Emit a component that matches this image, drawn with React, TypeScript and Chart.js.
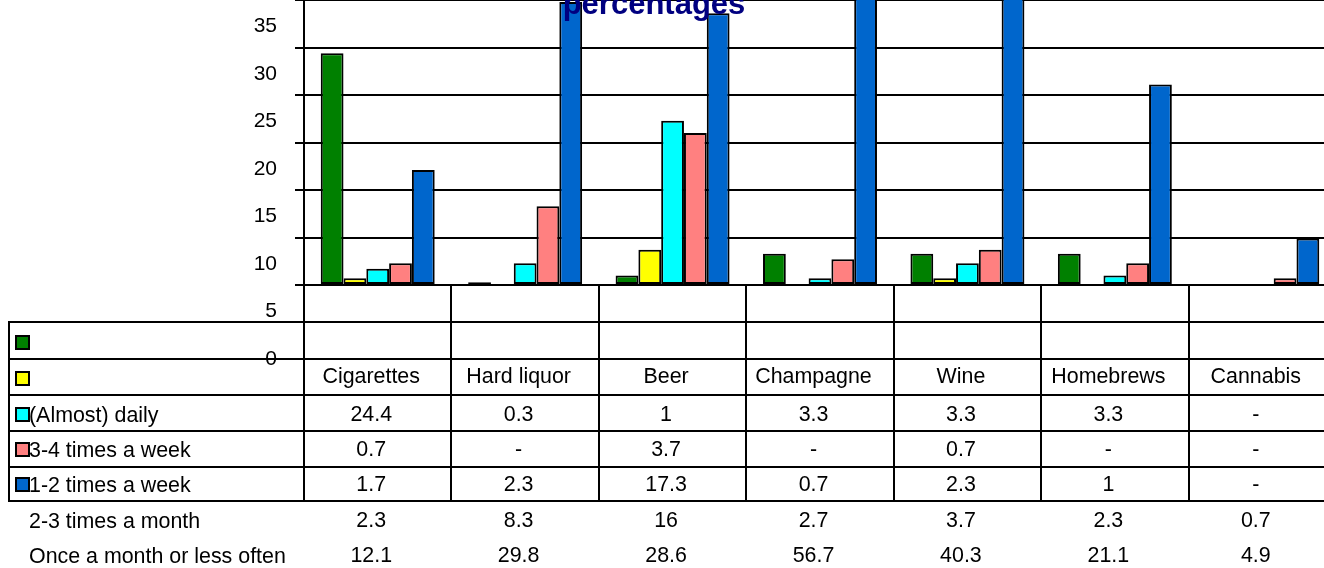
import React, { useEffect, useRef } from "react";
import { Chart, registerables } from "chart.js";

Chart.register(...registerables);

// ---- data ----
const categories = ["Cigarettes", "Hard liquor", "Beer", "Champagne", "Wine", "Homebrews", "Cannabis"];
const seriesNames = [
  "(Almost) daily",
  "3-4 times a week",
  "1-2 times a week",
  "2-3 times a month",
  "Once a month or less often",
];
const seriesColors = ["#008000", "#FFFF00", "#00FFFF", "#FF8080", "#0066CC"];
const almostDaily = [24.4, 0.3, 1, 3.3, 3.3, 3.3, null];
const threeFourWeek = [0.7, null, 3.7, null, 0.7, null, null];
const oneTwoWeek = [1.7, 2.3, 17.3, 0.7, 2.3, 1, null];
const twoThreeMonth = [2.3, 8.3, 16, 2.7, 3.7, 2.3, 0.7];
const onceMonth = [12.1, 29.8, 28.6, 56.7, 40.3, 21.1, 4.9];
const seriesValues = [almostDaily, threeFourWeek, oneTwoWeek, twoThreeMonth, onceMonth];
const yMin = 0;
const yMax = 35;
const yStep = 5;
const titleText = "percentages";

// ---- layout ----
const PAGE_W = 1324;
const PAGE_H = 568;
const OFF = 50; // canvas is shifted up by this many px
const CW = 1340;
const CH = PAGE_H + OFF;
const FONT = "Arial, 'Liberation Sans', sans-serif";

const tablePlugin = {
  id: "tablePlugin",
  afterDraw(chart: any) {
    const ctx = chart.ctx as CanvasRenderingContext2D;
    const xs = chart.scales.x;
    const area = chart.chartArea;
    const Y = (v: number) => v + OFF;
    const half = (xs.getPixelForValue(1) - xs.getPixelForValue(0)) / 2;
    const right = area.right;
    const left = 9;
    const axisX = area.left;
    const bottom = area.bottom;
    const rowLines = [322, 359, 395, 431, 467, 501];

    ctx.save();
    ctx.strokeStyle = "#000";
    ctx.lineWidth = 2;
    ctx.beginPath();
    rowLines.forEach((r) => {
      ctx.moveTo(left, Y(r));
      ctx.lineTo(right, Y(r));
    });
    ctx.moveTo(left, Y(322) - 1);
    ctx.lineTo(left, Y(501) + 1);
    ctx.moveTo(axisX, bottom);
    ctx.lineTo(axisX, Y(501) + 1);
    for (let k = 1; k <= categories.length; k++) {
      const bx = Math.round(xs.getPixelForValue(k) - half);
      ctx.moveTo(bx, bottom);
      ctx.lineTo(bx, Y(501) + 1);
    }
    ctx.stroke();

    // legend keys
    const keyTops = [336, 372, 408, 443, 478];
    seriesColors.forEach((c, i) => {
      ctx.fillStyle = c;
      ctx.fillRect(16, Y(keyTops[i]), 13, 13);
      ctx.lineWidth = 2;
      ctx.strokeStyle = "#000";
      ctx.strokeRect(16, Y(keyTops[i]), 13, 13);
    });

    // text
    ctx.font = `21.4px ${FONT}`;
    ctx.fillStyle = "#000";
    ctx.textBaseline = "middle";
    const rowCenters = [416, 451, 486, 522, 557];
    ctx.textAlign = "left";
    seriesNames.forEach((n, i) => {
      ctx.fillText(n, 29, Y(rowCenters[i]));
    });
    ctx.textAlign = "center";
    categories.forEach((cat, k) => {
      const cx = xs.getPixelForValue(k) - 6.5;
      ctx.fillText(cat, cx, Y(377));
      seriesValues.forEach((vals, i) => {
        const v = vals[k];
        ctx.fillText(v === null ? "-" : String(v), cx, Y(rowCenters[i] - 1));
      });
    });

    // title
    ctx.font = `bold 31px ${FONT}`;
    ctx.fillStyle = "#000080";
    ctx.textBaseline = "alphabetic";
    ctx.textAlign = "center";
    ctx.fillText(titleText, 654, Y(14));
    ctx.restore();
  },
};

export default function App() {
  const ref = useRef<HTMLCanvasElement | null>(null);
  useEffect(() => {
    if (!ref.current) return;
    const chart = new Chart(ref.current, {
      type: "bar",
      data: {
        labels: categories,
        datasets: seriesNames.map((name, i) => ({
          label: name,
          data: seriesValues[i],
          backgroundColor: seriesColors[i],
          borderColor: "#000",
          borderWidth: 2,
          borderSkipped: false,
          categoryPercentage: 0.773,
          barPercentage: 1,
        })),
      },
      options: {
        animation: false,
        responsive: false,
        devicePixelRatio: 1,
        layout: { padding: { top: 2.5, bottom: 283, left: 0, right: 4 } },
        plugins: {
          legend: { display: false },
          title: { display: false },
          tooltip: { enabled: false },
        },
        scales: {
          x: { display: false, offset: true },
          y: {
            min: yMin,
            max: yMax,
            afterFit: (scale: any) => {
              scale.width = 304;
              scale.paddingTop = 0;
              scale.paddingBottom = 0;
            },
            ticks: {
              stepSize: yStep,
              color: "#000",
              font: { size: 21, family: FONT },
              padding: 18,
              labelOffset: 74,
            },
            grid: {
              color: "#000",
              lineWidth: 2,
              drawTicks: true,
              tickLength: 9,
            },
            border: { display: true, color: "#000", width: 2 },
          },
        },
      },
      plugins: [tablePlugin],
    });
    return () => chart.destroy();
  }, []);
  return (
    <div
      style={{
        position: "absolute",
        left: 0,
        top: 0,
        width: PAGE_W,
        height: PAGE_H,
        overflow: "hidden",
        background: "#fff",
      }}
    >
      <canvas
        ref={ref}
        width={CW}
        height={CH}
        style={{ position: "absolute", left: 0, top: -OFF, width: CW, height: CH }}
      />
    </div>
  );
}
